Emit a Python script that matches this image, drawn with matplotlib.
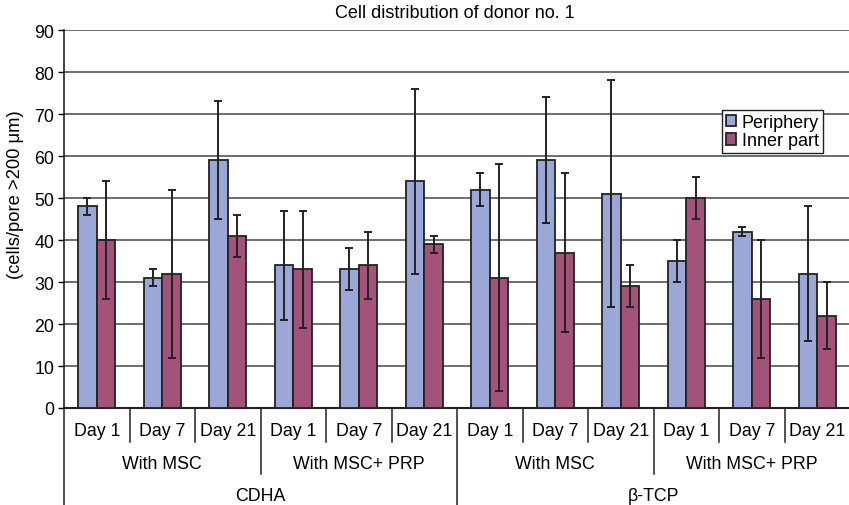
import matplotlib
matplotlib.use("Agg")
import matplotlib.pyplot as plt
import numpy as np

plt.rcParams['font.family'] = ['Liberation Sans', 'DejaVu Sans']

days = ["Day 1", "Day 7", "Day 21"] * 4
treatments = ["With MSC", "With MSC+ PRP", "With MSC", "With MSC+ PRP"]
materials = ["CDHA", "\u03b2-TCP"]
periphery = [48, 31, 59, 34, 33, 54, 52, 59, 51, 35, 42, 32]
periphery_err = [2, 2, 14, 13, 5, 22, 4, 15, 27, 5, 1, 16]
inner = [40, 32, 41, 33, 34, 39, 31, 37, 29, 50, 26, 22]
inner_err = [14, 20, 5, 14, 8, 2, 27, 19, 5, 5, 14, 8]
yticks = list(range(0, 100, 10))

W, H = 849, 506
fig = plt.figure(figsize=(W / 100, H / 100), dpi=100)
ax = fig.add_axes([64 / W, 97 / H, 786 / W, 378 / H])

n = len(days)
x = np.arange(n) + 0.5
bw = 0.285
c_per = "#9BA7D6"
c_inn = "#A3527A"
ec = "#222222"
ax.bar(x - bw / 2, periphery, bw, color=c_per, edgecolor=ec, linewidth=1.3, label="Periphery", zorder=3)
ax.bar(x + bw / 2, inner, bw, color=c_inn, edgecolor=ec, linewidth=1.3, label="Inner part", zorder=3)
ax.errorbar(x - bw / 2, periphery, yerr=periphery_err, fmt="none", ecolor=ec, elinewidth=1.4, capsize=3, capthick=1.4, zorder=4)
ax.errorbar(x + bw / 2, inner, yerr=inner_err, fmt="none", ecolor=ec, elinewidth=1.4, capsize=3, capthick=1.4, zorder=4)

ax.set_xlim(0, n)
ax.set_ylim(0, 90)
ax.set_yticks(yticks)
ax.tick_params(axis="y", labelsize=12.8, length=4, width=1, direction="out", pad=3)
ax.set_xticks([])
ax.yaxis.grid(True, color="#555555", linewidth=1.2, zorder=0)
ax.set_axisbelow(True)
for s in ["top", "right"]:
    ax.spines[s].set_visible(False)
ax.spines["left"].set_color("#222222")
ax.spines["bottom"].set_color("#222222")
ax.spines["left"].set_linewidth(1.2)
ax.spines["bottom"].set_linewidth(1.5)

tr = ax.get_xaxis_transform()
y1 = -(443 - 409) / 378
y2 = -(475 - 409) / 378
y3 = -(507 - 409) / 378
lc = "#222222"
for i in range(n + 1):
    if i % 6 == 0:
        yb = y3
    elif i % 3 == 0:
        yb = y2
    else:
        yb = y1
    ax.plot([i, i], [0, yb], transform=tr, color=lc, lw=1.1, clip_on=False)

for i, d in enumerate(days):
    ax.text(i + 0.5, -(432 - 409) / 378, d, transform=tr, ha="center", va="center", fontsize=12.8)
for j, t in enumerate(treatments):
    ax.text(j * 3 + 1.5, -(465 - 409) / 378, t, transform=tr, ha="center", va="center", fontsize=12.8)
for k, m in enumerate(materials):
    ax.text(k * 6 + 3, -(497 - 409) / 378, m, transform=tr, ha="center", va="center", fontsize=12.8)

fig.text(455 / W, 1 - 13 / H, "Cell distribution of donor no. 1", ha="center", va="center", fontsize=13)
fig.text(16 / W, 1 - 195 / H, "(cells/pore >200 \u03bcm)", ha="center", va="center", rotation=90, fontsize=13.2)

leg = ax.legend(loc="upper left", bbox_to_anchor=(722 / W, 1 - 111 / H), bbox_transform=fig.transFigure,
                fontsize=13, frameon=True, fancybox=False, framealpha=1, edgecolor="#222222",
                handlelength=0.6, handleheight=0.6, handletextpad=0.3, borderpad=0.2,
                labelspacing=0.1, borderaxespad=0)
leg.get_frame().set_linewidth(1.0)

fig.savefig("out.png", dpi=100)
